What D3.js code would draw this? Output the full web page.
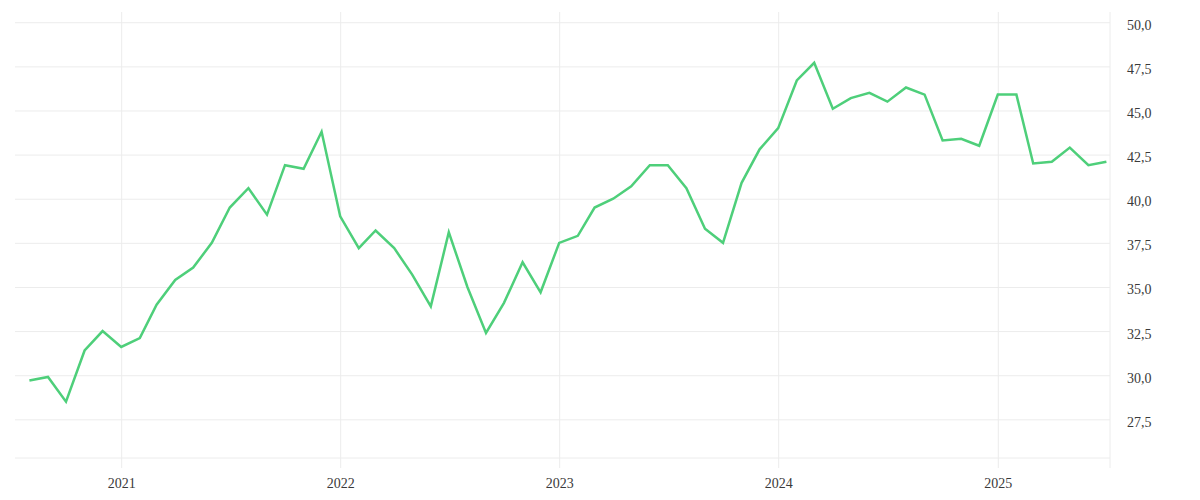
<!DOCTYPE html>
<html>
<head>
<meta charset="utf-8">
<script src="https://cdn.jsdelivr.net/npm/d3@7"></script>
<style>
  html, body { margin: 0; padding: 0; background: #fff; }
  svg { display: block; }
  .tick text { font-family: "Liberation Serif", serif; font-size: 14px; fill: #3a3a3a; }
</style>
</head>
<body>
<svg id="chart" width="1200" height="500"></svg>
<script>
// monthly observations, Aug 2020 - Jul 2025
const months = [
  '2020-08', '2020-09', '2020-10', '2020-11', '2020-12',
  '2021-01', '2021-02', '2021-03', '2021-04', '2021-05', '2021-06', '2021-07', '2021-08', '2021-09', '2021-10', '2021-11', '2021-12',
  '2022-01', '2022-02', '2022-03', '2022-04', '2022-05', '2022-06', '2022-07', '2022-08', '2022-09', '2022-10', '2022-11', '2022-12',
  '2023-01', '2023-02', '2023-03', '2023-04', '2023-05', '2023-06', '2023-07', '2023-08', '2023-09', '2023-10', '2023-11', '2023-12',
  '2024-01', '2024-02', '2024-03', '2024-04', '2024-05', '2024-06', '2024-07', '2024-08', '2024-09', '2024-10', '2024-11', '2024-12',
  '2025-01', '2025-02', '2025-03', '2025-04', '2025-05', '2025-06', '2025-07'
];
const values = [
  29.7, 29.9, 28.5, 31.4, 32.5,
  31.6, 32.1, 34.0, 35.4, 36.1, 37.5, 39.5, 40.6, 39.1, 41.9, 41.7, 43.8,
  39.0, 37.2, 38.2, 37.2, 35.7, 33.9, 38.1, 35.0, 32.4, 34.1, 36.4, 34.7,
  37.5, 37.9, 39.5, 40.0, 40.7, 41.9, 41.9, 40.6, 38.3, 37.5, 40.9, 42.8,
  44.0, 46.7, 47.7, 45.1, 45.7, 46.0, 45.5, 46.3, 45.9, 43.3, 43.4, 43.0,
  45.9, 45.9, 42.0, 42.1, 42.9, 41.9, 42.1
];
const yTicks = [27.5, 30, 32.5, 35, 37.5, 40, 42.5, 45, 47.5, 50];
const xDomain = ['2020-07-08', '2025-07-07'];
const yDomain = [25.31, 50.58];

const parse = d3.timeParse('%Y-%m');
const data = months.map((m, i) => ({ date: parse(m), value: values[i] }));

const svg = d3.select('#chart');
const plot = { left: 15, right: 1110, top: 12, bottom: 458, tickBottom: 468 };
const gridColor = '#ececec';

const x = d3.scaleTime()
  .domain(xDomain.map(d3.timeParse('%Y-%m-%d')))
  .range([plot.left, plot.right]);
const y = d3.scaleLinear()
  .domain(yDomain)
  .range([plot.bottom, plot.top]);

const fmt = d3.formatLocale({ decimal: ',', thousands: '.', grouping: [3], currency: ['', ''] }).format('.1f');

// horizontal grid + labels on the right
const yAxis = svg.append('g')
  .attr('transform', `translate(${plot.right},0)`)
  .call(d3.axisRight(y).tickValues(yTicks).tickFormat(fmt).tickSize(-(plot.right - plot.left)).tickPadding(17));
yAxis.select('.domain').remove();
yAxis.selectAll('.tick line').attr('stroke', gridColor);
yAxis.selectAll('.tick text').attr('dy', '0.5em');

// vertical year grid + labels
const xAxis = svg.append('g')
  .attr('transform', `translate(0,${plot.tickBottom})`)
  .call(d3.axisBottom(x).ticks(d3.timeYear).tickFormat(d3.timeFormat('%Y')).tickSize(-(plot.tickBottom - plot.top)).tickPadding(10));
xAxis.select('.domain').remove();
xAxis.selectAll('.tick line').attr('stroke', gridColor);

// frame lines: bottom and right
svg.append('line')
  .attr('x1', plot.left).attr('x2', plot.right)
  .attr('y1', y(yDomain[0])).attr('y2', y(yDomain[0]))
  .attr('stroke', gridColor);
svg.append('line')
  .attr('x1', plot.right).attr('x2', plot.right)
  .attr('y1', plot.top).attr('y2', plot.tickBottom)
  .attr('stroke', gridColor);

const line = d3.line()
  .x(d => x(d.date))
  .y(d => y(d.value));

svg.append('path')
  .datum(data)
  .attr('fill', 'none')
  .attr('stroke', '#4ecf7a')
  .attr('stroke-width', 2.5)
  .attr('d', line);
</script>
</body>
</html>
